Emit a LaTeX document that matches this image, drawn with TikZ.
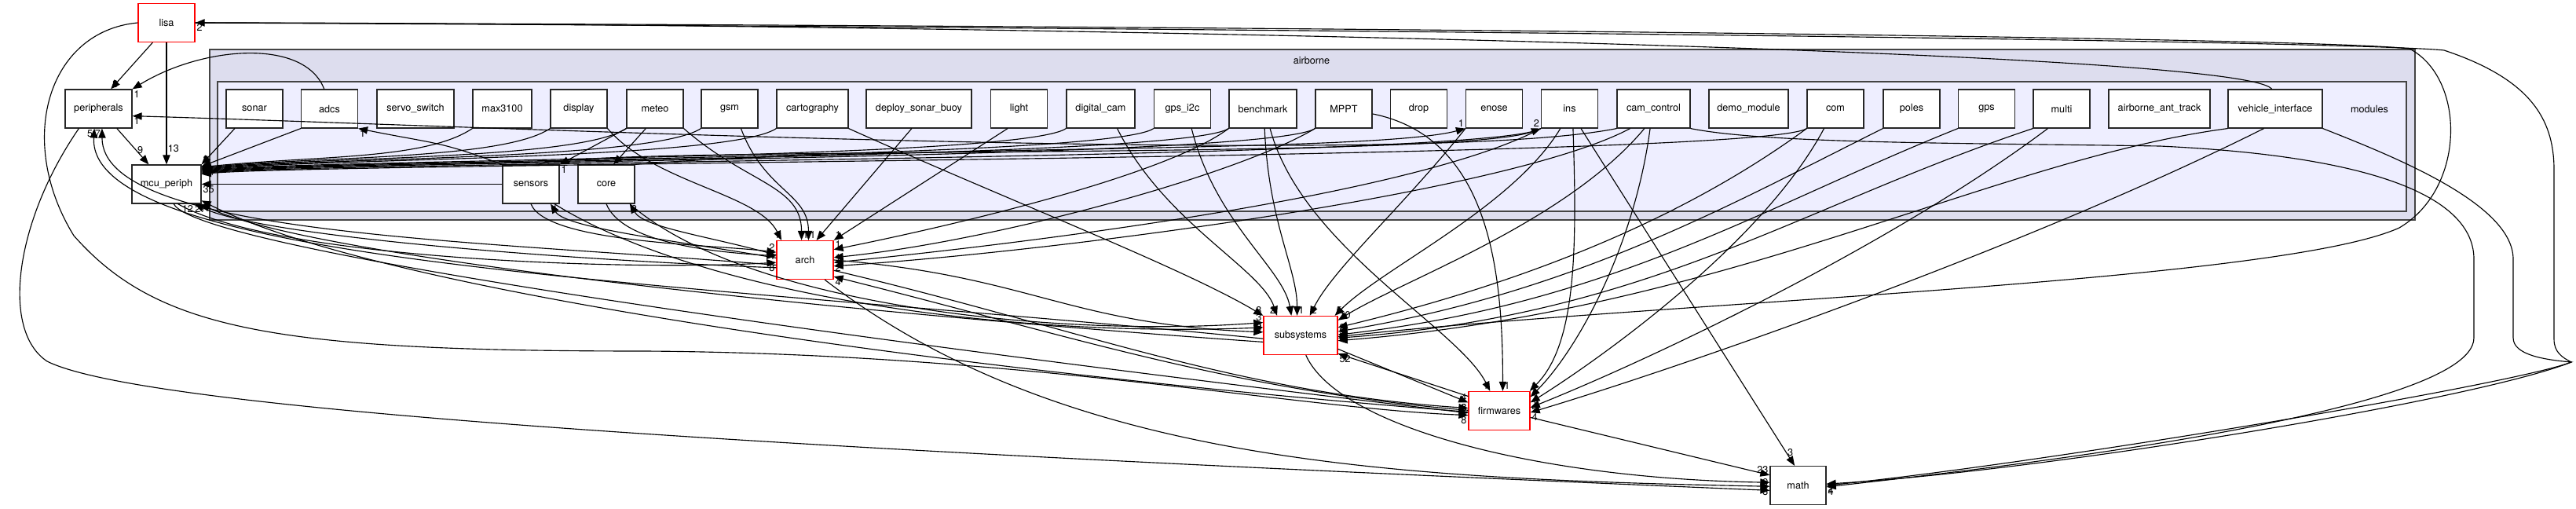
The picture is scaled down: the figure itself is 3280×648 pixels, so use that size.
\documentclass[tikz,border=0pt]{standalone}
\usepackage{fontspec}
\setmainfont{TeX Gyre Heros}
\usetikzlibrary{arrows.meta}
\definecolor{OuterClr}{RGB}{221,221,238}
\definecolor{InnerClr}{RGB}{238,238,255}
\definecolor{FrameClr}{RGB}{68,68,68}
\definecolor{MainClr}{RGB}{255,0,0}
\tikzset{
  dir/.style={draw=black!85,fill=white,line width=0.9pt,minimum width=54pt,
    minimum height=36.75pt,inner sep=0pt,font=\fontsize{9.5}{11}\selectfont},
  maindir/.style={dir,draw=MainClr,line width=1pt},
  dep/.style={-{Triangle[length=9pt,width=7pt]},line width=0.85pt},
  lbl/.style={font=\fontsize{9.5}{11}\selectfont,inner sep=1pt},
  frame/.style={draw=FrameClr,line width=1.3pt}
}

\begin{document}
\begin{tikzpicture}[x=0.75pt,y=-0.75pt]
\useasboundingbox (0,0) rectangle (3280,648);

% clusters
\draw[frame,fill=OuterClr] (267,63) rectangle (3075,280);
\draw[frame,fill=InnerClr] (277,104) rectangle (3064,269);
\node[lbl] (airborne) at (1670,77) {airborne};
\node[lbl] (modules) at (3017,138.5) {modules};

% top level directories
\node[maindir] (lisa) at (212,29) {lisa};
\node[dir,minimum width=63.75pt] (periph) at (125.5,138.5) {peripherals};
\node[dir,minimum width=66pt] (mcu) at (212,234.5) {mcu\_periph};
\node[maindir] (arch) at (1025,331) {arch};
\node[maindir,minimum width=70.5pt] (subsys) at (1656,427) {subsystems};
\node[maindir,minimum width=58.5pt] (fw) at (1909,523) {firmwares};
\node[dir,minimum width=53.25pt] (math) at (2289.5,618) {math};

% modules
\node[dir] (sonar) at (324,138.5) {sonar};
\node[dir] (adcs) at (419.5,138.5) {adcs};
\node[dir,minimum width=73.5pt] (servo) at (529,138.5) {servo\_switch};
\node[dir,minimum width=56.25pt] (max) at (639.5,138.5) {max3100};
\node[dir] (display) at (737,138.5) {display};
\node[dir] (meteo) at (834,138.5) {meteo};
\node[dir] (gsm) at (929,138.5) {gsm};
\node[dir,minimum width=68.25pt] (carto) at (1034.5,138.5) {cartography};
\node[dir,minimum width=100.5pt] (buoy) at (1170,138.5) {deploy\_sonar\_buoy};
\node[dir] (light) at (1297.5,138.5) {light};
\node[dir,minimum width=65.25pt] (cam) at (1401.5,138.5) {digital\_cam};
\node[dir] (gpsic) at (1505.5,138.5) {gps\_i2c};
\node[dir,minimum width=64.5pt] (bench) at (1608,138.5) {benchmark};
\node[dir] (mppt) at (1711,138.5) {MPPT};
\node[dir] (drop) at (1806.5,138.5) {drop};
\node[dir] (enose) at (1902.5,138.5) {enose};
\node[dir] (ins) at (1998.5,138.5) {ins};
\node[dir,minimum width=69.75pt] (camctl) at (2105.5,138.5) {cam\_control};
\node[dir,minimum width=75.75pt] (demo) at (2226.5,138.5) {demo\_module};
\node[dir] (com) at (2337,138.5) {com};
\node[dir] (poles) at (2434,138.5) {poles};
\node[dir] (gps) at (2529.5,138.5) {gps};
\node[dir] (multi) at (2625,138.5) {multi};
\node[dir,minimum width=96.75pt] (anttrack) at (2749.5,138.5) {airborne\_ant\_track};
\node[dir,minimum width=90pt] (vehicle) at (2897,138.5) {vehicle\_interface};
\node[dir] (sensors) at (676,234.5) {sensors};
\node[dir] (core) at (772,234.5) {core};

% lisa, peripherals, mcu_periph
\draw[dep] (lisa.235) -- (periph.58) node[lbl,anchor=south west]{8};
\draw[dep] (lisa.south) -- node[lbl,pos=0.87,right]{13} (mcu.north);
\draw[dep] (periph.313) -- node[lbl,pos=0.6,right]{9} (mcu.132);
\draw[dep] (adcs.105) .. controls +(-25,-65) and +(90,-55) .. (periph.north east) node[lbl,anchor=north west]{1};
\draw[dep] (camctl.south west) .. controls (1800,215) and (600,160) .. (periph.-12) node[lbl,anchor=north west]{1};
\draw[dep] (vehicle.100) .. controls +(-40,-55) and +(800,0) .. (lisa.east) node[lbl,anchor=north west]{2};

% round the right side
\draw[dep] (lisa.east) .. controls (1700,33) and (2950,48) .. (3068,62)
  .. controls (3140,100) and (3140,240) .. (3055,290)
  .. controls (2900,360) and (2100,385) .. (subsys.-2) node[lbl,anchor=west]{6};
\draw[dep] (lisa.east) .. controls (1700,36) and (2990,52) .. (3112,64)
  .. controls (3220,100) and (3252,150) .. (3252,216) -- (3252,432)
  .. controls (3252,448) and (3262,455) .. (3274,461)
  .. controls (3150,510) and (2600,600) .. (math.3) node[lbl,anchor=north west]{2};
\draw[dep] (camctl.south east) .. controls (2250,183) and (2500,182) .. (2750,186)
  .. controls (3050,200) and (3150,260) .. (3150,330) -- (3150,430)
  .. controls (3150,530) and (2500,600) .. (math.-3) node[lbl,anchor=north west]{4};
\draw[dep] (vehicle.south east) .. controls (3050,200) and (3200,260) .. (3200,330) -- (3200,430)
  .. controls (3200,452) and (3240,458) .. (3274,461)
  .. controls (3200,490) and (2600,590) .. (math.0);

% into mcu_periph
\draw[dep] (sonar.-135) -- (mcu.north east) node[lbl,anchor=south west]{2};
\draw[dep] (adcs.south west) -- (mcu.27);
\foreach \s/\a/\n in {max/26/,display/25/,meteo/24/,gsm/23/,carto/22/31,cam/21/,gpsic/20/,bench/19/34,mppt/18/,ins/17/,com/16/}
  \draw[dep] (\s.south west) .. controls +(-60,40) and +(150,-15) .. (mcu.\a) node[lbl,anchor=west]{\n};
\draw[dep] (sensors.west) -- (mcu.east) node[lbl,anchor=north west]{35};

% inside modules
\draw[dep] (meteo.south west) -- (sensors.north east) node[lbl,anchor=north west]{1};
\draw[dep] (meteo.-115) -- (core.70);
\draw[dep] (sensors.north west) .. controls +(-80,-30) and +(100,20) .. (adcs.south east) node[lbl,anchor=north west]{1};
\draw[dep] (core.north east) .. controls (1100,185) and (1750,195) .. (enose.south west) node[lbl,anchor=south east]{1};
\draw[dep] (sensors.70) .. controls +(60,-25) and (1850,205) .. (ins.south west) node[lbl,anchor=south east]{2};

% into arch
\draw[dep] (display.south east) .. controls +(60,70) and +(-30,-60) .. (arch.140) node[lbl,anchor=south east]{1};
\draw[dep] (meteo.south east) .. controls +(80,70) and +(0,-70) .. (arch.100) node[lbl,anchor=south west]{1};
\draw[dep] (gsm.-60) .. controls +(30,80) and +(0,-60) .. (arch.80) node[lbl,anchor=south west]{1};
\draw[dep] (buoy.-110) -- (arch.60) node[lbl,anchor=south west]{1};
\draw[dep] (light.-120) -- (arch.north east) node[lbl,anchor=south west]{1};
\draw[dep] (bench.south west) .. controls +(-80,60) and +(150,-30) .. (arch.20) node[lbl,anchor=south west]{1};
\draw[dep] (mppt.south west) .. controls +(-100,60) and +(200,-20) .. (arch.5) node[lbl,anchor=west]{1};
\draw[dep] (ins.south west) .. controls +(-150,80) and +(300,-30) .. (arch.-5) node[lbl,anchor=north west]{2};
\draw[dep] (camctl.-140) .. controls +(-150,80) and +(300,-20) .. (arch.-12);
\draw[dep] (sensors.south) .. controls +(20,50) and +(-80,-10) .. (arch.165) node[lbl,anchor=south east]{2};
\draw[dep] (core.south) .. controls +(20,50) and +(-80,-5) .. (arch.172) node[lbl,anchor=east]{4};
\draw[dep] (mcu.-60) .. controls (350,330) and (800,345) .. (arch.185) node[lbl,anchor=north east]{8};
\draw[dep] (arch.176) .. controls (850,305) and (720,290) .. (sensors.-45) node[lbl,anchor=north west]{1};
\draw[dep] (arch.170) .. controls (900,300) and (820,290) .. (core.-40) node[lbl,anchor=north west]{2};

% lower left
\draw[dep] (arch.190) .. controls (600,305) and (130,300) .. (periph.-80) node[lbl,anchor=north east]{7};
\draw[dep] (subsys.185) .. controls (900,360) and (110,340) .. (periph.-102) node[lbl,anchor=north east]{5};
\draw[dep] (arch.195) .. controls (700,330) and (330,300) .. (mcu.-35) node[lbl,anchor=north east]{12};
\draw[dep] (subsys.190) .. controls (1100,400) and (400,330) .. (mcu.-30) node[lbl,anchor=north]{27};
\draw[dep] (fw.182) .. controls (1300,480) and (500,380) .. (mcu.-25) node[lbl,anchor=north west]{7};
\draw[dep] (periph.-135) .. controls (20,280) and (0,420) .. (60,460)
  .. controls (200,530) and (1200,580) .. (math.190) node[lbl,anchor=south east]{3};
\draw[dep] (lisa.west) .. controls (60,40) and (20,180) .. (94,300)
  .. controls (200,420) and (350,447) .. (820,447)
  .. controls (1300,450) and (1650,520) .. (fw.-172) node[lbl,anchor=north east]{8};
\draw[dep] (mcu.-70) .. controls (260,330) and (1400,470) .. (fw.-176) node[lbl,anchor=south east]{8};

% arch, subsystems, firmwares
\draw[dep] (arch.east) .. controls +(250,20) and +(-250,-10) .. (subsys.175) node[lbl,anchor=south east]{9};
\draw[dep] (sensors.-40) .. controls (900,380) and (1300,430) .. (subsys.168) node[lbl,anchor=east]{8};
\draw[dep] (core.-40) .. controls (950,390) and (1350,430) .. (subsys.161) node[lbl,anchor=south east]{3};
\draw[dep] (subsys.-20) -- (fw.165) node[lbl,anchor=south east]{4};
\draw[dep] (fw.155) -- (subsys.-26) node[lbl,anchor=north west]{52};
\draw[dep] (arch.-20) .. controls +(300,70) and +(-300,-20) .. (fw.175) node[lbl,anchor=east]{6};
\draw[dep] (fw.179) .. controls +(-300,-25) and +(300,75) .. (arch.-30) node[lbl,anchor=north west]{4};

% into math
\draw[dep] (ins.-60) -- node[lbl,pos=0.96,right]{3} (math.100);
\draw[dep] (fw.-12) -- (math.160) node[lbl,anchor=south east]{23};
\draw[dep] (subsys.-75) .. controls +(40,90) and +(-300,-5) .. (math.174) node[lbl,anchor=east]{9};
\draw[dep] (arch.-45) .. controls +(300,230) and +(-500,-10) .. (math.182) node[lbl,anchor=north east]{3};

% into subsystems from the modules
\draw[dep] (carto.south east) .. controls +(200,90) and +(-100,-60) .. (subsys.north west) node[lbl,anchor=south east]{3};
\draw[dep] (cam.-50) .. controls +(60,120) and +(-20,-60) .. (subsys.140) node[lbl,anchor=south east]{2};
\draw[dep] (gpsic.-65) .. controls +(30,120) and +(-10,-60) .. (subsys.115) node[lbl,anchor=south]{1};
\draw[dep] (bench.-85) .. controls +(5,120) and +(0,-60) .. (subsys.100) node[lbl,anchor=south west]{1};
\draw[dep] (enose.south west) .. controls +(-80,100) and +(30,-60) .. (subsys.65) node[lbl,anchor=south west]{2};
\draw[dep] (ins.-115) .. controls +(-60,100) and +(60,-60) .. (subsys.30) node[lbl,anchor=south west]{5};
\draw[dep] (camctl.-115) .. controls +(-100,120) and +(80,-50) .. (subsys.22) node[lbl,anchor=south west]{10};
\draw[dep] (com.south west) .. controls +(-150,110) and +(250,-60) .. (subsys.12) node[lbl,anchor=west]{2};
\draw[dep] (poles.south west) .. controls +(-200,100) and +(300,-50) .. (subsys.6) node[lbl,anchor=west]{3};
\draw[dep] (gps.south west) .. controls +(-250,100) and +(350,-40) .. (subsys.1);
\draw[dep] (multi.south west) .. controls +(-300,100) and +(400,-30) .. (subsys.-4) node[lbl,anchor=west]{8};
\draw[dep] (vehicle.south west) .. controls +(-300,40) and +(500,-40) .. (subsys.-8);

% into firmwares from the modules
\draw[dep] (bench.-70) .. controls +(40,150) and +(-40,-80) .. (fw.115) node[lbl,anchor=south east]{1};
\draw[dep] (mppt.-10) .. controls +(150,30) and +(0,-150) .. (fw.80) node[lbl,anchor=south west]{1};
\draw[dep] (ins.-80) .. controls +(5,150) and +(60,-60) .. (fw.33) node[lbl,anchor=south west]{1};
\draw[dep] (camctl.-100) .. controls +(-20,150) and +(60,-60) .. (fw.24) node[lbl,anchor=west]{1};
\draw[dep] (com.-120) .. controls +(-80,150) and +(80,-50) .. (fw.15) node[lbl,anchor=west]{1};
\draw[dep] (multi.-125) .. controls +(-200,150) and +(150,-60) .. (fw.6) node[lbl,anchor=west]{4};
\draw[dep] (vehicle.-120) .. controls +(-300,150) and +(200,-60) .. (fw.-3) node[lbl,anchor=north west]{4};

\end{tikzpicture}
\end{document}
